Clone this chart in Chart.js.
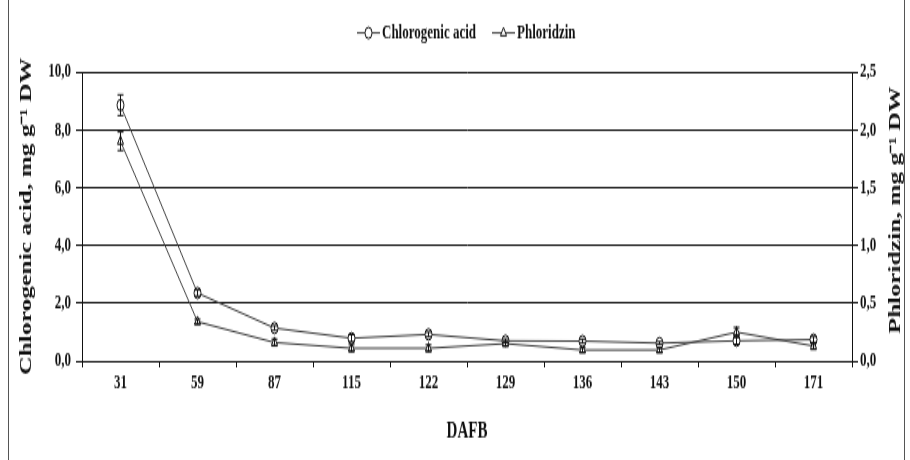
<!DOCTYPE html>
<html>
<head>
<meta charset="utf-8">
<script src="https://cdn.jsdelivr.net/npm/chart.js@4.4.1/dist/chart.umd.min.js"></script>
<style>
  html, body { margin: 0; padding: 0; background: #fff; }
  #wrap { position: relative; width: 910px; height: 460px; }
  #frame { position: absolute; left: 8px; top: 0; width: 897px; height: 460px;
           border-left: 1px solid #555; border-right: 1px solid #555;
           box-sizing: border-box; pointer-events: none; }
  canvas { display: block; }
</style>
</head>
<body>
<div id="wrap">
  <!-- drawn at 288px high and stretched to 460px, like the original figure -->
  <canvas id="chart" width="910" height="288" style="width:910px;height:460px"></canvas>
  <div id="frame"></div>
</div>
<script>
const days = ["31", "59", "87", "115", "122", "129", "136", "143", "150", "171"];

const chlorogenic = [8.85, 2.35, 1.14, 0.79, 0.92, 0.70, 0.69, 0.62, 0.70, 0.74];
const chlorogenicErr = [0.36, 0.10, 0.08, 0.12, 0.08, 0.07, 0.07, 0.05, 0.12, 0.10];

const phloridzin = [1.90, 0.34, 0.16, 0.11, 0.11, 0.15, 0.095, 0.095, 0.25, 0.13];
const phloridzinErr = [0.08, 0.02, 0.03, 0.03, 0.03, 0.02, 0.02, 0.02, 0.04, 0.03];

const leftTicks = [0, 2, 4, 6, 8, 10];
const rightTicks = [0, 0.5, 1, 1.5, 2, 2.5];

const FONT = "'Liberation Serif', 'Times New Roman', serif";
const INK = "#111";
const LINE = "#3c3c3c";

Chart.defaults.font.family = FONT;
Chart.defaults.font.weight = "bold";
Chart.defaults.color = INK;

const comma = v => Number(v).toFixed(1).replace(".", ",");

// error bars from the err arrays, placed with the dataset's own y scale
const errorBars = {
  id: "errorBars",
  afterDatasetsDraw(chart) {
    const ctx = chart.ctx;
    const errs = [chlorogenicErr, phloridzinErr];
    ctx.save();
    ctx.strokeStyle = INK;
    ctx.lineWidth = 1;
    chart.data.datasets.forEach((ds, i) => {
      const meta = chart.getDatasetMeta(i);
      const scale = chart.scales[meta.yAxisID];
      meta.data.forEach((pt, j) => {
        const v = ds.data[j], e = errs[i][j];
        const yTop = scale.getPixelForValue(v + e);
        const yBot = scale.getPixelForValue(v - e);
        ctx.beginPath();
        ctx.moveTo(pt.x, yTop); ctx.lineTo(pt.x, yBot);
        ctx.moveTo(pt.x - 3, yTop); ctx.lineTo(pt.x + 3, yTop);
        ctx.moveTo(pt.x - 3, yBot); ctx.lineTo(pt.x + 3, yBot);
        ctx.stroke();
      });
    });
    ctx.restore();
  }
};

// legend with a line through each marker, as in the figure
const lineLegend = {
  id: "lineLegend",
  afterDraw(chart) {
    const ctx = chart.ctx;
    const y = 20.6;
    const items = [
      { x0: 357, label: "Chlorogenic acid", style: "circle" },
      { x0: 492, label: "Phloridzin", style: "triangle" }
    ];
    ctx.save();
    items.forEach(it => {
      ctx.strokeStyle = LINE;
      ctx.lineWidth = 1;
      ctx.beginPath();
      ctx.moveTo(it.x0, y); ctx.lineTo(it.x0 + 23, y);
      ctx.stroke();
      ctx.fillStyle = "#fff";
      ctx.strokeStyle = INK;
      Chart.helpers.drawPoint(ctx, { pointStyle: it.style, radius: 3.5, rotation: 0, borderWidth: 1 }, it.x0 + 11.5, y);
      ctx.fillStyle = INK;
      ctx.font = "bold 13px " + FONT;
      ctx.textBaseline = "middle";
      ctx.textAlign = "left";
      ctx.fillText(it.label, it.x0 + 25, y + 0.5);
    });
    ctx.restore();
  }
};

// right axis title reads bottom to top in the original
const rightTitle = {
  id: "rightTitle",
  afterDraw(chart) {
    const ctx = chart.ctx;
    const a = chart.chartArea;
    ctx.save();
    ctx.translate(896, (a.top + a.bottom) / 2 - 4);
    ctx.rotate(-Math.PI / 2);
    ctx.fillStyle = INK;
    ctx.font = "bold 16px " + FONT;
    ctx.textAlign = "center";
    ctx.textBaseline = "middle";
    ctx.fillText("Phloridzin, mg g\u207B\u00B9 DW", 0, 0);
    ctx.restore();
  }
};

new Chart(document.getElementById("chart"), {
  type: "line",
  data: {
    labels: days,
    datasets: [
      {
        label: "Chlorogenic acid",
        data: chlorogenic,
        yAxisID: "y",
        borderColor: LINE,
        borderWidth: 1,
        pointStyle: "circle",
        pointRadius: 3.5,
        pointBackgroundColor: "#fff",
        pointBorderColor: INK,
        pointBorderWidth: 1,
        tension: 0
      },
      {
        label: "Phloridzin",
        data: phloridzin,
        yAxisID: "y2",
        borderColor: LINE,
        borderWidth: 1,
        pointStyle: "triangle",
        pointRadius: 3.5,
        pointBackgroundColor: "#fff",
        pointBorderColor: INK,
        pointBorderWidth: 1,
        tension: 0
      }
    ]
  },
  options: {
    responsive: false,
    animation: false,
    devicePixelRatio: 1,
    layout: { padding: { top: 45, left: 0, right: 0, bottom: 0 } },
    plugins: {
      legend: { display: false },
      tooltip: { enabled: false }
    },
    scales: {
      x: {
        offset: true,
        grid: { offset: true, drawOnChartArea: false, drawTicks: true, tickLength: 4, color: INK, lineWidth: 1 },
        border: { display: true, color: INK, width: 1 },
        ticks: { font: { size: 13, weight: "bold" }, color: INK, padding: 2, maxRotation: 0 },
        title: { display: true, text: "DAFB", font: { size: 15, weight: "bold" }, color: INK, padding: { top: 0, bottom: 9 } },
        afterFit(s) { s.height = 62; }
      },
      y: {
        position: "left",
        min: 0,
        max: 10,
        afterBuildTicks(s) { s.ticks = leftTicks.map(v => ({ value: v })); },
        grid: { color: INK, lineWidth: 1, tickLength: 6, drawTicks: true },
        border: { display: true, color: INK, width: 1 },
        ticks: { font: { size: 13, weight: "bold" }, color: INK, padding: 5, callback: comma },
        title: { display: true, text: "Chlorogenic acid, mg g\u207B\u00B9 DW", font: { size: 16, weight: "bold" }, color: INK, padding: { top: 17, bottom: 0 } },
        afterFit(s) { s.width = 82; }
      },
      y2: {
        position: "right",
        min: 0,
        max: 2.5,
        afterBuildTicks(s) { s.ticks = rightTicks.map(v => ({ value: v })); },
        grid: { drawOnChartArea: false, color: INK, lineWidth: 1, tickLength: 6, drawTicks: true },
        border: { display: true, color: INK, width: 1 },
        ticks: { font: { size: 13, weight: "bold" }, color: INK, padding: 2, callback: comma },
        afterFit(s) { s.width = 58; }
      }
    }
  },
  plugins: [errorBars, lineLegend, rightTitle]
});
</script>
</body>
</html>
